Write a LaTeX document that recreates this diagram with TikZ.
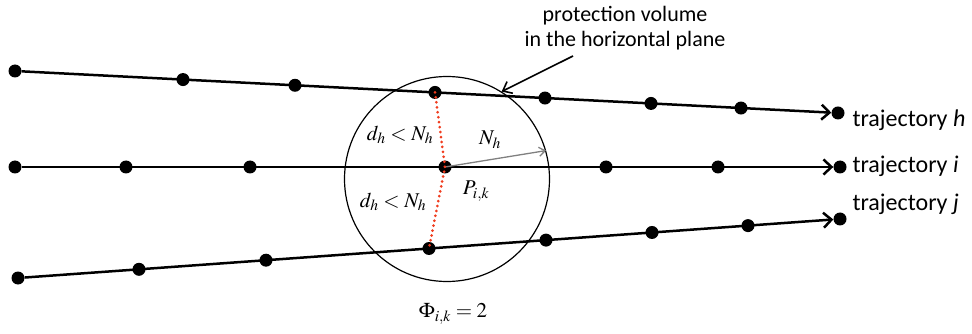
\documentclass[tikz,border=0pt]{standalone}
\usepackage{mathptmx}
\usepackage{fontspec}
\setmainfont{Carlito}
\usetikzlibrary{arrows.meta}

\definecolor{dotred}{RGB}{240,60,30}

\begin{document}
\begin{tikzpicture}[x=1pt, y=-1pt, font=\fontsize{24}{26}\selectfont,
    dot/.style={circle, fill=black, inner sep=0pt, minimum size=13pt},
    traj/.style={line width=2.5pt, -{Straight Barb[length=8pt, width=15pt, line width=2.5pt]}},
    mathlbl/.style={font=\fontsize{21}{24}\selectfont}]
  \useasboundingbox (0,0) rectangle (972,334);

  % trajectory points
  \foreach \x [count=\n] in {15,183,295,435,545,651,741,838}
    \node[dot] (h\n) at (\x, {71+0.051*(\x-15)}) {};
  \foreach \x [count=\n] in {15,126,250,445,606,718,840}
    \node[dot] (i\n) at (\x,167) {};
  \foreach \x [count=\n] in {18,139,266,429,546,652,748,840}
    \node[dot] (j\n) at (\x, {278-0.07178*(\x-18)}) {};

  \draw[traj] (h1) -- (h8);
  \draw[traj] (i1) -- (i7);
  \draw[traj] (j1) -- (j8);

  % protection volume
  \node[draw, circle, line width=1.2pt, minimum size=205pt] (vol) at (447,179) {};
  \draw[gray, line width=1.3pt, -{Straight Barb[length=6pt, width=9pt]}] (i4.center) -- (vol.16);
  \draw[dotred, line width=3pt, line cap=round, dash pattern=on 0pt off 5pt]
    (h4.center) -- (i4.center) -- (j4.center);

  \node[align=center, font=\fontsize{22}{25}\selectfont] (note) at (625,28)
    {protection volume\\in the horizontal plane};
  \coordinate (ptr) at (573,56);
  \draw[line width=1.6pt, -{Straight Barb[length=8pt, width=13pt]}] (ptr) -- (vol.58);

  % labels
  \node[mathlbl] (dh1) at (400,135) {$d_h < N_h$};
  \node[mathlbl] (dh2) at (393,202) {$d_h < N_h$};
  \node[mathlbl] (nh) at (490,140) {$N_h$};
  \node[mathlbl] (pik) at (476,191) {$P_{i,k}$};
  \node[mathlbl] (phi) at (453,314) {$\Phi_{i,k} = 2$};

  \node[anchor=west] (th) at (849,120) {trajectory \textit{h}};
  \node[anchor=west] (ti) at (849,166) {trajectory \textit{i}};
  \node[anchor=west] (tj) at (849,204) {trajectory \textit{j}};
\end{tikzpicture}
\end{document}
